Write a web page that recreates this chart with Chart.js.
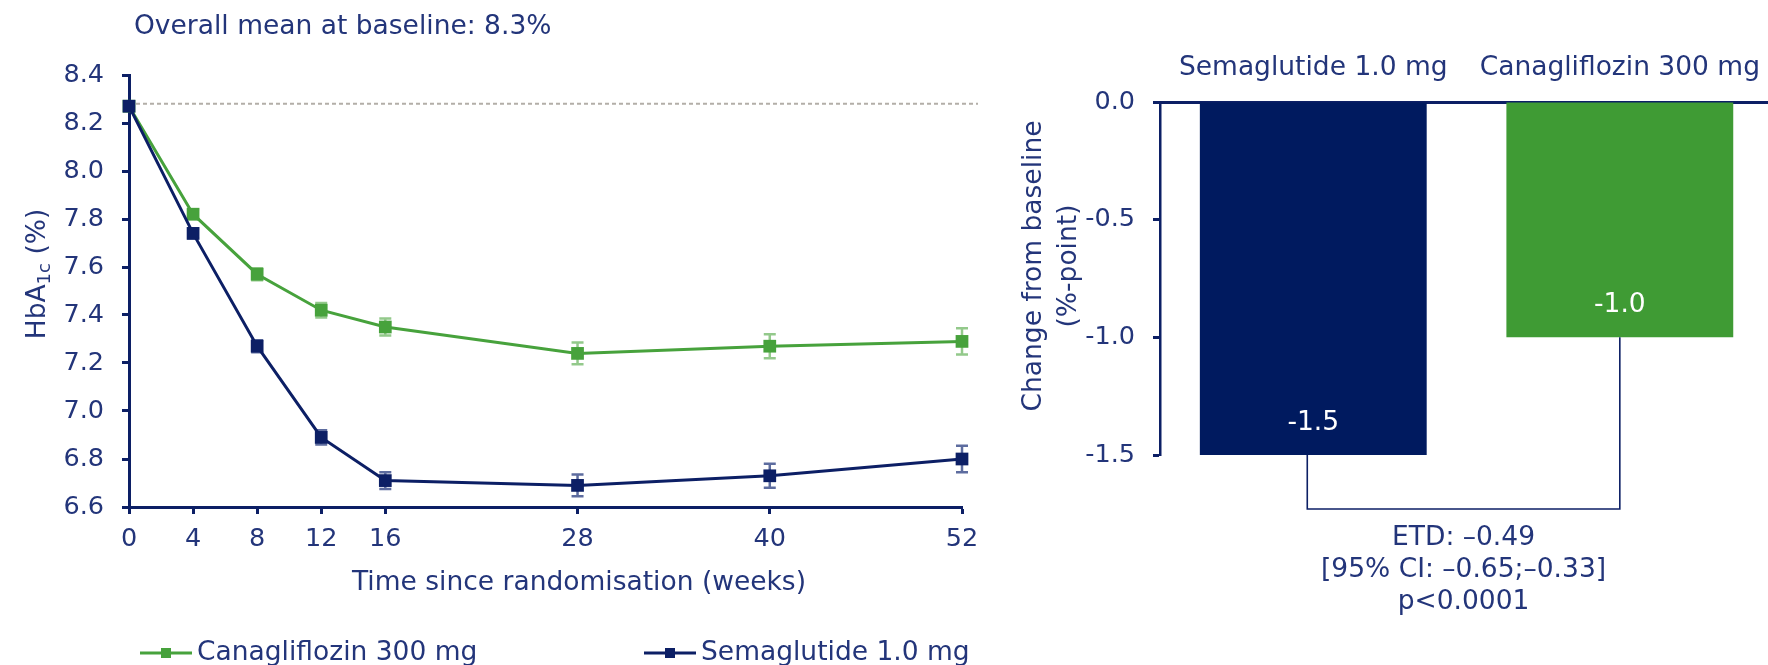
<!DOCTYPE html>
<html>
<head>
<meta charset="utf-8">
<script src="https://cdn.jsdelivr.net/npm/chart.js@4.4.1/dist/chart.umd.min.js"></script>
<style>
  html, body { margin: 0; padding: 0; background: #ffffff; }
  #wrap { position: relative; width: 1768px; height: 665px; overflow: hidden; }
  #trendBox { position: absolute; left: 0; top: 0; width: 1000px; height: 665px; }
  #changeBox { position: absolute; left: 1000px; top: 0; width: 778px; height: 665px; }
</style>
</head>
<body>
<div id="wrap">
  <div id="trendBox"><canvas id="trend" width="1000" height="665"></canvas></div>
  <div id="changeBox"><canvas id="change" width="778" height="665"></canvas></div>
</div>
<script>
// ---- HbA1c over time (weeks since randomisation) ----
const weeks = [0, 4, 8, 12, 16, 28, 40, 52];
const semaglutideMean = [8.27, 7.74, 7.27, 6.89, 6.71, 6.69, 6.73, 6.80];
const semaglutideSE   = [0, 0.02, 0.025, 0.03, 0.035, 0.045, 0.05, 0.055];
const canagliflozinMean = [8.27, 7.82, 7.57, 7.42, 7.35, 7.24, 7.27, 7.29];
const canagliflozinSE   = [0, 0.02, 0.025, 0.03, 0.035, 0.045, 0.05, 0.055];
const hbaTicks = [6.6, 6.8, 7.0, 7.2, 7.4, 7.6, 7.8, 8.0, 8.2, 8.4];
const baselineMean = 8.28;

// ---- Change from baseline at week 52 ----
const treatments = ['Semaglutide 1.0 mg', 'Canagliflozin 300 mg'];
const changeFromBaseline = [-1.5, -1.0];
const changeTicks = [-1.5, -1.0, -0.5, 0.0];
const changeAxisTitle = ['Change from baseline', '(%-point)'];
const etdLines = ['ETD: \u20130.49', '[95% CI: \u20130.65;\u20130.33]', 'p<0.0001'];

const FONT = 'DejaVu Sans, Verdana, sans-serif';
const FS = 26.5;
const TICK_FS = 25.5;
const TEXT = '#23357a';
const NAVY = '#0c1f65';
const NAVY_BAR = '#001a5f';
const GREEN = '#47a23c';
const GREEN_BAR = '#3f9b34';
const NAVY_ERR = '#5d6c9f';
const GREEN_ERR = '#93c98b';

Chart.defaults.font.family = FONT;
Chart.defaults.color = TEXT;

function toPoints(means) {
  return means.map((v, i) => ({ x: weeks[i], y: v }));
}

// Error bars, baseline reference, titles and key for the time-course panel
const trendDecor = {
  id: 'trendDecor',
  beforeDatasetsDraw(chart) {
    const { ctx, chartArea, scales: { x, y } } = chart;
    // dashed line at the overall baseline mean
    ctx.save();
    ctx.strokeStyle = '#b3aea8';
    ctx.lineWidth = 2;
    ctx.setLineDash([4, 3]);
    const yb = y.getPixelForValue(baselineMean);
    ctx.beginPath();
    ctx.moveTo(chartArea.left, yb);
    ctx.lineTo(chartArea.right + 16, yb);
    ctx.stroke();
    ctx.restore();
    // standard-error bars
    chart.data.datasets.forEach(ds => {
      ctx.save();
      ctx.strokeStyle = ds.errColor;
      ctx.lineWidth = 2.5;
      ds.data.forEach((p, i) => {
        const se = ds.se[i];
        if (!se) return;
        const px = x.getPixelForValue(p.x);
        const top = y.getPixelForValue(p.y + se);
        const bot = y.getPixelForValue(p.y - se);
        ctx.beginPath();
        ctx.moveTo(px, top); ctx.lineTo(px, bot);
        ctx.moveTo(px - 6, top); ctx.lineTo(px + 6, top);
        ctx.moveTo(px - 6, bot); ctx.lineTo(px + 6, bot);
        ctx.stroke();
      });
      ctx.restore();
    });
  },
  afterDraw(chart) {
    const { ctx } = chart;
    ctx.save();
    ctx.fillStyle = TEXT;
    // panel title
    ctx.font = FS + 'px ' + FONT;
    ctx.textAlign = 'left';
    ctx.textBaseline = 'middle';
    ctx.fillText('Overall mean at baseline: 8.3%', 134, 27);
    // x-axis title
    ctx.textAlign = 'center';
    ctx.fillText('Time since randomisation (weeks)', 579, 583);
    // y-axis title with subscript
    ctx.save();
    ctx.translate(38, 274);
    ctx.rotate(-Math.PI / 2);
    const big = FS + 'px ' + FONT, small = '18px ' + FONT;
    ctx.font = big; const w1 = ctx.measureText('HbA').width;
    ctx.font = small; const w2 = ctx.measureText('1c').width;
    ctx.font = big; const w3 = ctx.measureText(' (%)').width;
    let sx = -(w1 + w2 + w3) / 2;
    ctx.textAlign = 'left';
    ctx.font = big; ctx.fillText('HbA', sx, 0); sx += w1;
    ctx.font = small; ctx.fillText('1c', sx, 7); sx += w2;
    ctx.font = big; ctx.fillText(' (%)', sx, 0);
    ctx.restore();
    // series key
    const keyY = 653;
    const items = [
      { ds: chart.data.datasets[1], x0: 140 },
      { ds: chart.data.datasets[0], x0: 644 }
    ];
    items.forEach(({ ds, x0 }) => {
      ctx.strokeStyle = ds.borderColor;
      ctx.fillStyle = ds.borderColor;
      ctx.lineWidth = 3;
      ctx.beginPath();
      ctx.moveTo(x0, keyY); ctx.lineTo(x0 + 52, keyY);
      ctx.stroke();
      ctx.fillRect(x0 + 26 - 5, keyY - 5, 10, 10);
      ctx.fillStyle = TEXT;
      ctx.font = FS + 'px ' + FONT;
      ctx.textAlign = 'left';
      ctx.fillText(ds.label, x0 + 57, keyY);
    });
    ctx.restore();
  }
};

new Chart(document.getElementById('trend'), {
  type: 'line',
  data: {
    datasets: [
      {
        label: 'Semaglutide 1.0 mg',
        data: toPoints(semaglutideMean),
        se: semaglutideSE,
        errColor: NAVY_ERR,
        borderColor: NAVY,
        backgroundColor: NAVY,
        borderWidth: 3,
        pointStyle: 'rect',
        pointRadius: 9,
        pointBorderWidth: 0,
        pointBackgroundColor: NAVY,
        tension: 0,
        order: 0
      },
      {
        label: 'Canagliflozin 300 mg',
        data: toPoints(canagliflozinMean),
        se: canagliflozinSE,
        errColor: GREEN_ERR,
        borderColor: GREEN,
        backgroundColor: GREEN,
        borderWidth: 3,
        pointStyle: 'rect',
        pointRadius: 9,
        pointBorderWidth: 0,
        pointBackgroundColor: GREEN,
        tension: 0,
        order: 1
      }
    ]
  },
  options: {
    responsive: false,
    animation: false,
    clip: false,
    layout: { padding: { left: 0, right: 38, top: 75, bottom: 0 } },
    plugins: { legend: { display: false }, tooltip: { enabled: false } },
    scales: {
      x: {
        type: 'linear',
        min: 0, max: 52,
        afterBuildTicks: s => { s.ticks = weeks.map(v => ({ value: v })); },
        afterFit: s => { s.height = 158; },
        grid: { drawOnChartArea: false, drawTicks: true, tickLength: 7, tickWidth: 3, tickColor: NAVY },
        border: { display: true, color: NAVY, width: 3 },
        ticks: { font: { size: TICK_FS }, color: TEXT, padding: 10, maxRotation: 0, autoSkip: false }
      },
      y: {
        min: 6.6, max: 8.4,
        afterBuildTicks: s => { s.ticks = hbaTicks.map(v => ({ value: v })); },
        afterFit: s => { s.width = 129; },
        grid: { drawOnChartArea: false, drawTicks: true, tickLength: 7, tickWidth: 3, tickColor: NAVY },
        border: { display: true, color: NAVY, width: 3 },
        ticks: { font: { size: TICK_FS }, color: TEXT, padding: 18, callback: v => Number(v).toFixed(1) }
      }
    }
  },
  plugins: [trendDecor]
});

// Bar value labels, axis title, comparison bracket and treatment difference text
const changeDecor = {
  id: 'changeDecor',
  afterDatasetsDraw(chart) {
    const { ctx } = chart;
    const bars = chart.getDatasetMeta(0).data;
    ctx.save();
    ctx.font = FS + 'px ' + FONT;
    ctx.fillStyle = '#ffffff';
    ctx.textAlign = 'center';
    ctx.textBaseline = 'middle';
    bars.forEach((b, i) => {
      ctx.fillText(changeFromBaseline[i].toFixed(1), b.x, b.y - 32);
    });
    // bracket joining the two bar ends
    const b0 = bars[0], b1 = bars[1];
    const yLow = Math.max(b0.y, b1.y) + 54;
    ctx.strokeStyle = NAVY;
    ctx.lineWidth = 1.6;
    ctx.beginPath();
    ctx.moveTo(b0.x - 6, b0.y);
    ctx.lineTo(b0.x - 6, yLow);
    ctx.lineTo(b1.x, yLow);
    ctx.lineTo(b1.x, b1.y);
    ctx.stroke();
    // estimated treatment difference
    ctx.fillStyle = TEXT;
    const cx = (b0.x - 6 + b1.x) / 2;
    etdLines.forEach((t, i) => ctx.fillText(t, cx, yLow + 29 + i * 32));
    // rotated y-axis title, two lines
    ctx.save();
    ctx.translate(34, 266);
    ctx.rotate(-Math.PI / 2);
    ctx.fillText(changeAxisTitle[0], 0, 0);
    ctx.fillText(changeAxisTitle[1], 0, 35);
    ctx.restore();
    ctx.restore();
  }
};

new Chart(document.getElementById('change'), {
  type: 'bar',
  data: {
    labels: treatments,
    datasets: [{
      data: changeFromBaseline,
      backgroundColor: [NAVY_BAR, GREEN_BAR],
      borderWidth: 0,
      barPercentage: 0.74,
      categoryPercentage: 1.0
    }]
  },
  options: {
    responsive: false,
    animation: false,
    layout: { padding: { left: 0, right: 0, top: 0, bottom: 210 } },
    plugins: { legend: { display: false }, tooltip: { enabled: false } },
    scales: {
      x: {
        position: 'top',
        afterFit: s => { s.height = 102; },
        grid: { display: true, drawOnChartArea: false, drawTicks: false },
        border: { display: true, color: NAVY, width: 3 },
        ticks: { font: { size: FS }, color: TEXT, padding: 18 }
      },
      y: {
        min: -1.5, max: 0,
        afterBuildTicks: s => { s.ticks = changeTicks.map(v => ({ value: v })); },
        afterFit: s => { s.width = 160; },
        grid: { drawOnChartArea: false, drawTicks: true, tickLength: 7, tickWidth: 3, tickColor: NAVY },
        border: { display: true, color: NAVY, width: 2.5 },
        ticks: { font: { size: TICK_FS }, color: TEXT, padding: 18, callback: v => Number(v).toFixed(1) }
      }
    }
  },
  plugins: [changeDecor]
});
</script>
</body>
</html>
